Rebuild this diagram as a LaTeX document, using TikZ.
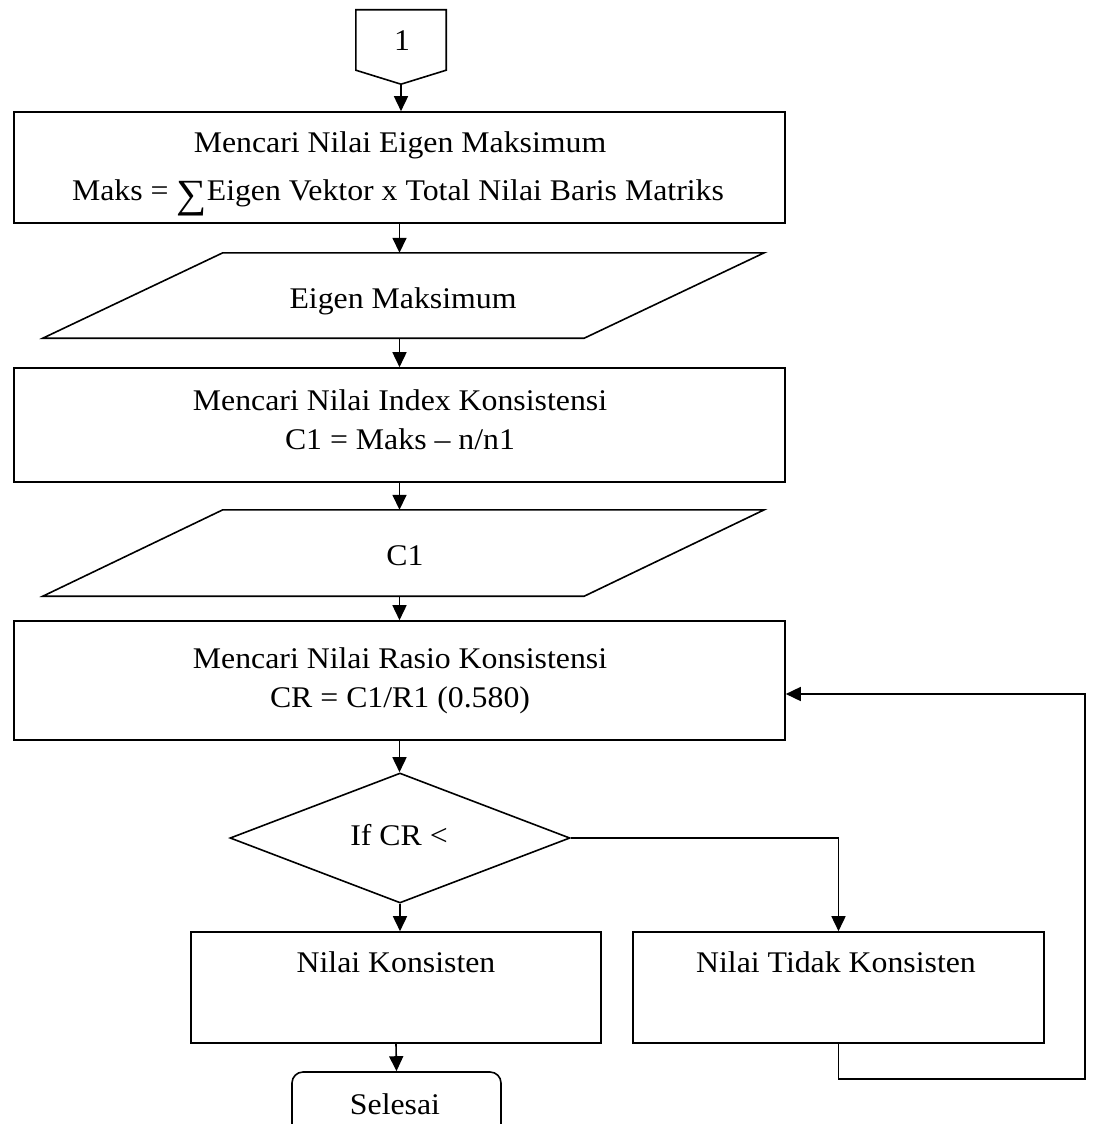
\documentclass[tikz,border=0pt]{standalone}
\usepackage{fontspec}
\usepackage{graphicx}
\setmainfont{Liberation Serif}
\usetikzlibrary{shapes.geometric,arrows.meta,calc}
% text is set slightly wide, as in the printed chart
\newcommand{\wtxt}[1]{\scalebox{1.06}[1]{#1}}
% large summation sign
\newcommand{\bigsum}{\raisebox{-7pt}{\fontsize{40}{40}\selectfont ∑}}
\tikzset{
  flowline/.style={line width=1.6pt, line join=miter},
  arr/.style={flowline, -{Triangle[length=15pt,width=14pt]}},
  procbox/.style={draw, flowline, rectangle, inner sep=0pt},
  hidden/.style={rectangle, inner sep=0pt},
  decision/.style={draw, flowline, diamond, inner sep=0pt, minimum width=340pt, minimum height=130pt},
  endbox/.style={draw, flowline, rectangle, rounded corners=11pt, inner sep=0pt},
  txt/.style={anchor=base, inner sep=0pt, font=\fontsize{30}{36}\selectfont},
}
\begin{document}
\begin{tikzpicture}[x=1pt, y=-1pt]
\useasboundingbox (0,0) rectangle (1093,1124);

% off-page connector
\node[hidden, minimum width=90pt, minimum height=74pt] (o1) at (401,47) {};
\draw[flowline] (o1.north west) -- (o1.north east) -- ([yshift=14pt]o1.south east)
  -- (o1.south) -- ([yshift=14pt]o1.south west) -- cycle;
\node[txt] (o1t) at (402,51) {\wtxt{1}};

% process boxes
\node[procbox, minimum width=771pt, minimum height=111pt] (b1) at (399.5,167.5) {};
\node[txt] (b1a) at (400,152) {\wtxt{Mencari Nilai Eigen Maksimum}};
\node[txt] (b1b) at (398,200) {\wtxt{Maks = \bigsum Eigen Vektor x Total Nilai Baris Matriks}};

\node[hidden, minimum width=721pt, minimum height=85pt] (p1) at (403.5,295.5) {};
\draw[flowline] ([xshift=180pt]p1.north west) -- (p1.north east)
  -- ([xshift=-180pt]p1.south east) -- (p1.south west) -- cycle;
\node[txt] (p1t) at (403,308) {\wtxt{Eigen Maksimum}};

\node[procbox, minimum width=771pt, minimum height=114pt] (b2) at (399.5,425) {};
\node[txt] (b2a) at (400,410) {\wtxt{Mencari Nilai Index Konsistensi}};
\node[txt] (b2b) at (400,449) {\wtxt{C1 = Maks -- n/n1}};

\node[hidden, minimum width=721pt, minimum height=86pt] (p2) at (403.5,553) {};
\draw[flowline] ([xshift=180pt]p2.north west) -- (p2.north east)
  -- ([xshift=-180pt]p2.south east) -- (p2.south west) -- cycle;
\node[txt] (p2t) at (405,565) {\wtxt{C1}};

\node[procbox, minimum width=771pt, minimum height=119pt] (b3) at (399.5,680.5) {};
\node[txt] (b3a) at (400,668) {\wtxt{Mencari Nilai Rasio Konsistensi}};
\node[txt] (b3b) at (400,707) {\wtxt{CR = C1/R1 (0.580)}};

% decision
\node[decision] (d) at (400,838) {};
\node[txt] (dt) at (399,845) {\wtxt{If CR <}};

% outcomes
\node[procbox, minimum width=410pt, minimum height=111pt] (nk) at (396,987.5) {};
\node[txt] (nkt) at (396,972) {\wtxt{Nilai Konsisten}};
\node[procbox, minimum width=411pt, minimum height=111pt] (ntk) at (838.5,987.5) {};
\node[txt] (ntkt) at (836,972) {\wtxt{Nilai Tidak Konsisten}};

% terminator
\node[endbox, minimum width=209pt, minimum height=84pt] (end) at (396.5,1114) {};
\node[txt] (endt) at (395,1114) {\wtxt{Selesai}};

% connectors
\coordinate (fb) at ([yshift=-13.5pt]b3.east);
\coordinate (loop) at (1085,1079);
\draw[arr] (o1.south) -- (o1.south |- b1.north);
\draw[arr] (b1.south) -- (b1.south |- p1.north);
\draw[arr] (b1.south |- p1.south) -- (b2.north);
\draw[arr] (b2.south) -- (b2.south |- p2.north);
\draw[arr] (b2.south |- p2.south) -- (b3.north);
\draw[arr] (b3.south) -- (b3.south |- d.north);
\draw[arr] (d.south) -- (d.south |- nk.north);
\draw[arr] (d.east) -| (ntk.north);
\draw[arr] (nk.south) -- (end.north);
\draw[arr] (ntk.south) |- (loop) |- (fb);
\end{tikzpicture}
\end{document}
